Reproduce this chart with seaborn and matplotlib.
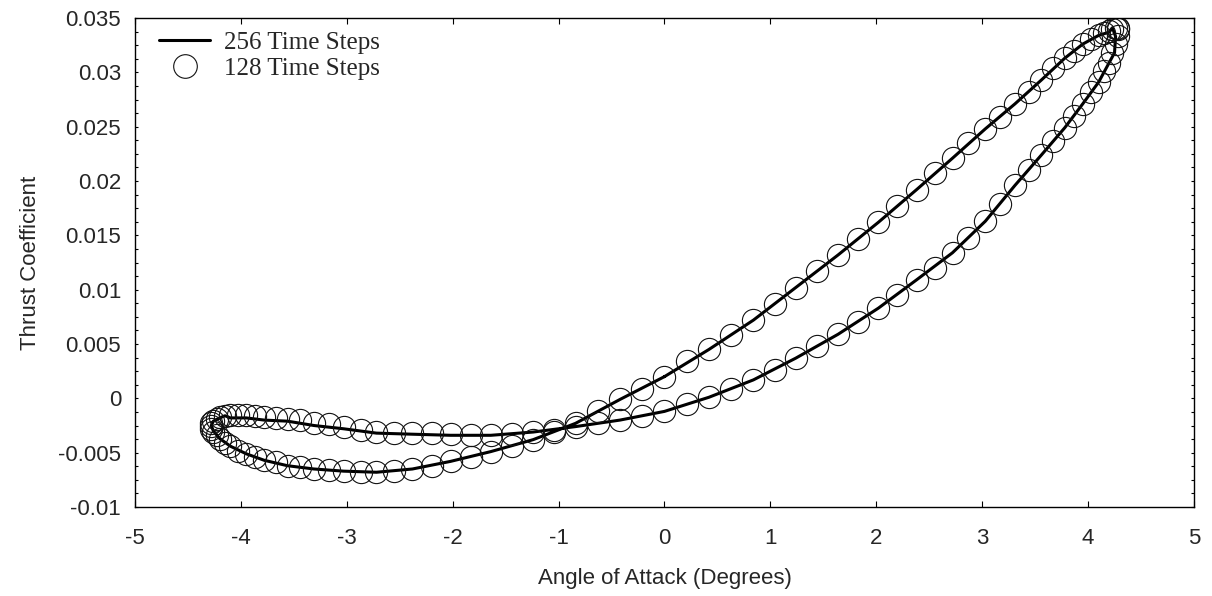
import numpy as np
import pandas as pd
import matplotlib
matplotlib.use("Agg")
import matplotlib.pyplot as plt
from matplotlib.ticker import MultipleLocator, FuncFormatter
from matplotlib.lines import Line2D
import seaborn as sns

# 128 time-step solution: angle of attack (deg) and thrust coefficient around one cycle
aoa_128 = [
    0.00, 0.21, 0.42, 0.63, 0.84, 1.04, 1.24, 1.44, 1.64, 1.83, 2.02, 2.20, 2.38, 2.55, 2.72, 2.87,
    3.03, 3.17, 3.31, 3.44, 3.56, 3.67, 3.78, 3.87, 3.95, 4.03, 4.10, 4.15, 4.20, 4.23, 4.26, 4.28,
    4.28, 4.28, 4.26, 4.23, 4.20, 4.15, 4.10, 4.03, 3.95, 3.87, 3.78, 3.67, 3.56, 3.44, 3.31, 3.17,
    3.03, 2.87, 2.72, 2.55, 2.38, 2.20, 2.02, 1.83, 1.64, 1.44, 1.24, 1.04, 0.84, 0.63, 0.42, 0.21,
    0.00, -0.21, -0.42, -0.63, -0.84, -1.04, -1.24, -1.44, -1.64, -1.83, -2.02, -2.20, -2.38, -2.55, -2.72, -2.87,
    -3.03, -3.17, -3.31, -3.44, -3.56, -3.67, -3.78, -3.87, -3.95, -4.03, -4.10, -4.15, -4.20, -4.23, -4.26, -4.28,
    -4.28, -4.28, -4.26, -4.23, -4.20, -4.15, -4.10, -4.03, -3.95, -3.87, -3.78, -3.67, -3.56, -3.44, -3.31, -3.17,
    -3.03, -2.87, -2.72, -2.55, -2.38, -2.20, -2.02, -1.83, -1.64, -1.44, -1.24, -1.04, -0.84, -0.63, -0.42, -0.21,
]
ct_128 = [
    0.0020, 0.0034, 0.0045, 0.0058, 0.0072, 0.0087, 0.0102, 0.0117, 0.0132, 0.0147, 0.0162, 0.0177, 0.0192, 0.0207, 0.0221, 0.0235,
    0.0248, 0.0259, 0.0271, 0.0282, 0.0293, 0.0304, 0.0313, 0.0320, 0.0326, 0.0331, 0.0334, 0.0336, 0.0338, 0.0340, 0.0341, 0.0341,
    0.0340, 0.0333, 0.0326, 0.0318, 0.0309, 0.0301, 0.0291, 0.0282, 0.0271, 0.0260, 0.0249, 0.0237, 0.0224, 0.0210, 0.0196, 0.0179,
    0.0163, 0.0148, 0.0134, 0.0120, 0.0109, 0.0095, 0.0083, 0.0070, 0.0059, 0.0048, 0.0037, 0.0026, 0.0017, 0.0009, 0.0001, -0.0005,
    -0.0012, -0.0016, -0.0020, -0.0023, -0.0026, -0.0029, -0.0031, -0.0033, -0.0034, -0.0034, -0.0033, -0.0032, -0.0032, -0.0032, -0.0031, -0.0029,
    -0.0026, -0.0024, -0.0023, -0.0020, -0.0019, -0.0018, -0.0017, -0.0016, -0.0015, -0.0015, -0.0015, -0.0016, -0.0017, -0.0019, -0.0021, -0.0023,
    -0.0025, -0.0028, -0.0031, -0.0034, -0.0037, -0.0041, -0.0044, -0.0048, -0.0051, -0.0054, -0.0057, -0.0059, -0.0062, -0.0063, -0.0065, -0.0066,
    -0.0067, -0.0068, -0.0068, -0.0067, -0.0065, -0.0062, -0.0058, -0.0054, -0.0049, -0.0044, -0.0038, -0.0031, -0.0023, -0.0012, -0.0001, 0.0009,
]

# 256 time-step solution, traced around the same cycle
aoa_256 = [
    0.00, 0.42, 0.84, 1.24, 1.64, 2.02, 2.38, 2.72, 3.03, 3.31, 3.56, 3.78, 3.95, 4.10, 4.20, 4.23,
    4.26, 4.25, 4.20, 4.10, 3.95, 3.78, 3.56, 3.31, 3.03, 2.72, 2.38, 2.02, 1.64, 1.24, 0.84, 0.42,
    0.00, -0.42, -0.84, -1.24, -1.64, -2.02, -2.38, -2.72, -3.03, -3.31, -3.56, -3.78, -3.95, -4.10, -4.15, -4.20,
    -4.26, -4.28, -4.26, -4.20, -4.10, -3.95, -3.78, -3.56, -3.31, -3.03, -2.72, -2.38, -2.02, -1.64, -1.24, -0.84,
    -0.42, 0.00,
]
ct_256 = [
    0.0020, 0.0045, 0.0072, 0.0102, 0.0132, 0.0162, 0.0192, 0.0221, 0.0248, 0.0271, 0.0293, 0.0313, 0.0326, 0.0334, 0.0337, 0.0341,
    0.0333, 0.0318, 0.0309, 0.0291, 0.0271, 0.0249, 0.0224, 0.0196, 0.0163, 0.0134, 0.0109, 0.0083, 0.0059, 0.0037, 0.0017, 0.0001,
    -0.0012, -0.0020, -0.0026, -0.0031, -0.0034, -0.0034, -0.0033, -0.0032, -0.0028, -0.0025, -0.0021, -0.0020, -0.0018, -0.0018, -0.0016, -0.0018,
    -0.0021, -0.0025, -0.0030, -0.0037, -0.0044, -0.0051, -0.0057, -0.0062, -0.0065, -0.0067, -0.0068, -0.0065, -0.0058, -0.0049, -0.0038, -0.0023,
    -0.0001, 0.0020,
]

series_labels = ["256 Time Steps", "128 Time Steps"]
x_ticks = [-5, -4, -3, -2, -1, 0, 1, 2, 3, 4, 5]
y_ticks = [-0.01, -0.005, 0, 0.005, 0.01, 0.015, 0.02, 0.025, 0.03, 0.035]

sns.set_theme(style="white")
plt.rcParams["font.family"] = ["Liberation Sans", "DejaVu Sans"]
plt.rcParams["axes.unicode_minus"] = False

fine = pd.DataFrame({"aoa": aoa_256, "ct": ct_256})
coarse = pd.DataFrame({"aoa": aoa_128, "ct": ct_128})

fig = plt.figure(figsize=(12.12, 5.96), dpi=100)
ax = fig.add_axes([0.1114, 0.1493, 0.8737, 0.8205])

sns.lineplot(data=fine, x="aoa", y="ct", sort=False, estimator=None,
             color="black", linewidth=2.2, ax=ax)
sns.lineplot(data=coarse, x="aoa", y="ct", sort=False, estimator=None,
             linestyle="none", marker="o", markersize=16,
             markerfacecolor="none", markeredgecolor="#111111",
             markeredgewidth=0.8, ax=ax)

ax.set_xlim(-5, 5)
ax.set_ylim(-0.01, 0.035)
ax.set_xticks(x_ticks)
ax.set_yticks(y_ticks)
ax.yaxis.set_minor_locator(MultipleLocator(0.00125))
ax.xaxis.set_major_formatter(FuncFormatter(lambda v, p: f"{v:g}"))
ax.yaxis.set_major_formatter(FuncFormatter(lambda v, p: f"{v:g}"))

for s in ax.spines.values():
    s.set_color("black")
    s.set_linewidth(1.0)

ax.tick_params(axis="x", which="major", direction="in", top=True, bottom=True,
               length=4.5, width=0.8, color="black", labelsize=16, pad=15)
ax.tick_params(axis="y", which="both", direction="in", left=True, right=True,
               length=2.2, width=0.8, color="black", labelsize=16, pad=10)

ax.set_xlabel("Angle of Attack (Degrees)", fontsize=16, labelpad=14)
ax.set_ylabel("Thrust Coefficient", fontsize=16, labelpad=12)

handles = [
    Line2D([], [], color="black", linewidth=2.2),
    Line2D([], [], linestyle="none", marker="o", markersize=17,
           markerfacecolor="none", markeredgecolor="#111111", markeredgewidth=0.8),
]
ax.legend(handles, series_labels, loc="upper left", bbox_to_anchor=(0.0227, 0.973),
          frameon=False, borderpad=0, borderaxespad=0, handlelength=2.05,
          handletextpad=0.55, labelspacing=0.15,
          prop={"family": "Liberation Serif", "size": 18})

fig.savefig("out.png", dpi=100)
